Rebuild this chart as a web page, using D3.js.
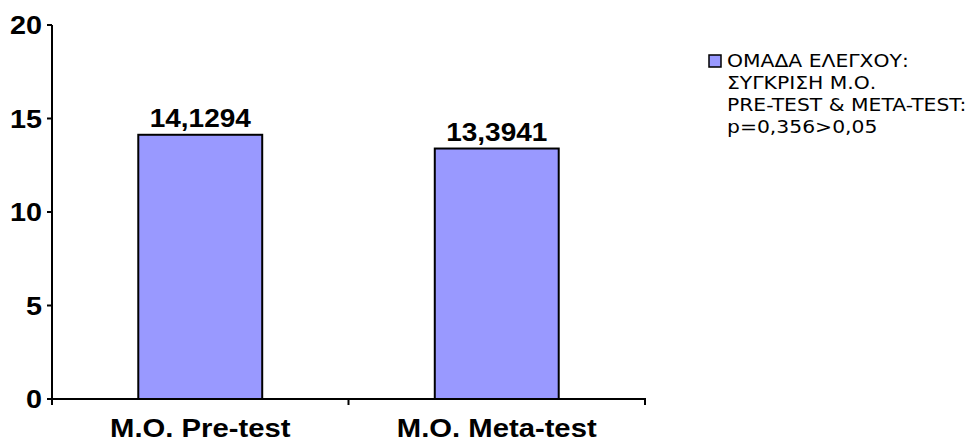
<!DOCTYPE html>
<html>
<head>
<meta charset="utf-8">
<script src="https://cdn.jsdelivr.net/npm/d3@7"></script>
<style>
  html, body { margin: 0; padding: 0; background: #fff; }
  svg { display: block; }
</style>
</head>
<body>
<svg id="chart" width="970" height="443"></svg>
<script>
// Mean scores of the control group, pre-test vs meta-test
const categories = ["M.O. Pre-test", "M.O. Meta-test"];
const values = [14.1294, 13.3941];
const valueLabels = ["14,1294", "13,3941"];
const yTicks = [0, 5, 10, 15, 20];
const legendLines = ["ΟΜΑΔΑ ΕΛΕΓΧΟΥ:", "ΣΥΓΚΡΙΣΗ Μ.Ο.", "PRE-TEST & META-TEST:", "p=0,356>0,05"];

const svg = d3.select("#chart");
const barFill = "#9999ff";
const boldFont = "'Liberation Sans', Arial, sans-serif";

const plot = { left: 52, right: 645, top: 25, bottom: 399 };

const x = d3.scaleBand()
  .domain(categories)
  .range([plot.left, plot.right])
  .paddingInner(0.582)
  .paddingOuter(0.291);

const y = d3.scaleLinear()
  .domain([0, 20])
  .range([plot.bottom, plot.top]);

// Bars
svg.append("g")
  .selectAll("rect")
  .data(values)
  .join("rect")
  .attr("x", (d, i) => x(categories[i]))
  .attr("y", d => y(d))
  .attr("width", x.bandwidth())
  .attr("height", d => y(0) - y(d))
  .attr("fill", barFill)
  .attr("stroke", "#000")
  .attr("stroke-width", 2);

// Value labels above the bars
svg.append("g")
  .selectAll("text")
  .data(values)
  .join("text")
  .attr("transform", (d, i) => `translate(${x(categories[i]) + x.bandwidth() / 2},${y(d) - 8}) scale(1.12,1)`)
  .attr("text-anchor", "middle")
  .attr("font-family", boldFont)
  .attr("font-weight", "bold")
  .attr("font-size", 25)
  .attr("fill", "#000")
  .text((d, i) => valueLabels[i]);

// Y axis
const yAxis = svg.append("g")
  .attr("transform", `translate(${plot.left},0)`)
  .call(d3.axisLeft(y).tickValues(yTicks).tickSize(5).tickSizeOuter(0).tickPadding(6).offset(0));
yAxis.select(".domain").attr("stroke", "#000").attr("stroke-width", 2);
yAxis.selectAll(".tick line").attr("stroke", "#000").attr("stroke-width", 2);
yAxis.selectAll(".tick text")
  .attr("font-family", boldFont)
  .attr("font-weight", "bold")
  .attr("font-size", 25)
  .attr("fill", "#000")
  .attr("x", null)
  .attr("dy", null)
  .attr("transform", "translate(-10,9) scale(1.15,1)");

// X axis: baseline, category boundary ticks and centred labels
const xAxis = svg.append("g")
  .attr("transform", `translate(0,${plot.bottom})`)
  .call(d3.axisBottom(x).tickSize(0).tickSizeOuter(0).tickPadding(0).offset(0));
xAxis.select(".domain").remove();
xAxis.append("line")
  .attr("x1", plot.left - 1).attr("x2", plot.right + 1)
  .attr("stroke", "#000").attr("stroke-width", 2);
const boundaries = [plot.left, ...categories.map(c => x(c) - x.step() * x.paddingInner() / 2 + x.step())];
xAxis.selectAll(".bound")
  .data(boundaries)
  .join("line")
  .attr("class", "bound")
  .attr("x1", d => d).attr("x2", d => d)
  .attr("y1", 0).attr("y2", 6)
  .attr("stroke", "#000").attr("stroke-width", 2);
xAxis.selectAll(".tick text")
  .attr("font-family", boldFont)
  .attr("font-weight", "bold")
  .attr("font-size", 25)
  .attr("fill", "#000")
  .attr("y", null)
  .attr("dy", null)
  .attr("transform", "translate(0,38) scale(1.17,1)");

// Legend
const legend = svg.append("g").attr("transform", "translate(709,55)");
legend.append("rect")
  .attr("width", 12).attr("height", 12)
  .attr("fill", barFill)
  .attr("stroke", "#000")
  .attr("stroke-width", 1.5);
legend.selectAll("text")
  .data(legendLines)
  .join("text")
  .attr("transform", (d, i) => `translate(18,${12 + i * 22}) scale(1.13,1)`)
  .attr("font-family", "'DejaVu Sans', Verdana, sans-serif")
  .attr("font-size", 18)
  .attr("fill", "#000")
  .text(d => d);
</script>
</body>
</html>
